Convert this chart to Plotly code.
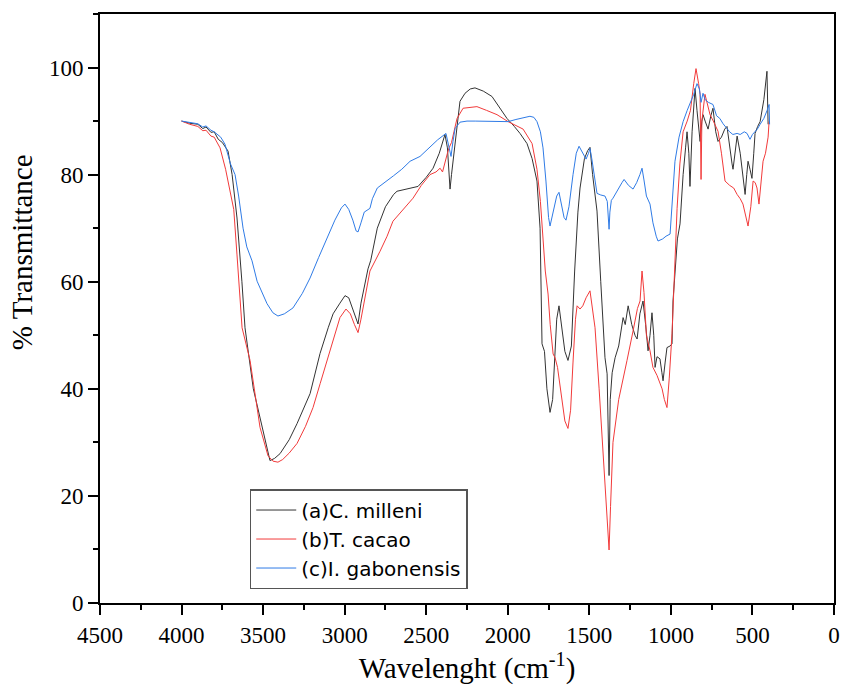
import plotly.graph_objects as go

# C. milleni (black)
wn_a = [4000, 3950, 3900, 3870, 3850, 3820, 3800, 3775, 3750, 3715, 3690, 3660, 3630, 3611, 3560,
        3507, 3475, 3458, 3430, 3396, 3340, 3292, 3212, 3151, 3100, 3071, 3029, 2998, 2975, 2950,
        2918, 2900, 2875, 2857, 2840, 2800, 2750, 2700, 2679, 2600, 2550, 2500, 2458, 2420, 2385,
        2370, 2360, 2354, 2345, 2336, 2325, 2310, 2293, 2262, 2230, 2201, 2150, 2097, 2050, 2005,
        1960, 1925, 1882, 1851, 1821, 1802, 1790, 1775, 1760, 1741, 1725, 1710, 1700, 1686, 1670,
        1650, 1631, 1610, 1590, 1570, 1557, 1530, 1510, 1496, 1480, 1453, 1430, 1404, 1391, 1385,
        1379, 1372, 1360, 1342, 1320, 1293, 1280, 1262, 1240, 1220, 1207, 1190, 1171, 1155, 1140,
        1128, 1116, 1105, 1097, 1085, 1067, 1055, 1048, 1035, 1024, 1005, 993, 987, 975, 960,
        944, 925, 910, 901, 890, 883, 870, 852, 840, 830, 821, 810, 803, 790, 772,
        755, 742, 725, 711, 690, 670, 656, 640, 625, 619, 605, 594, 575, 560, 545,
        535, 527, 515, 503, 492, 484, 468, 453, 430, 411, 404]
t_a = [90.0, 89.6, 89.4, 88.6, 88.9, 87.9, 88.0, 86.6, 86.0, 84.4, 80.0, 71.9, 60.0, 51.4, 40.0,
       32.8, 28.5, 26.6, 27.0, 27.9, 30.5, 33.5, 39.1, 46.6, 51.5, 54.0, 56.0, 57.4, 57.0, 55.0,
       52.1, 56.0, 60.0, 62.4, 64.0, 70.0, 74.0, 76.3, 76.9, 77.5, 77.8, 79.5, 81.2, 84.0, 87.5,
       85.0, 79.0, 77.3, 80.0, 82.5, 86.0, 90.0, 93.7, 95.2, 96.0, 96.2, 95.6, 94.6, 92.5, 90.5,
       89.0, 87.7, 85.8, 83.0, 78.8, 70.0, 48.4, 47.0, 40.0, 35.6, 38.0, 48.0, 53.0, 55.5, 52.0,
       47.0, 45.3, 48.0, 62.0, 73.0, 77.5, 83.0, 84.5, 85.1, 80.0, 73.2, 60.0, 45.8, 42.8, 30.0,
       23.8, 38.0, 43.0, 45.8, 48.0, 53.3, 52.0, 55.5, 52.0, 50.0, 49.3, 54.0, 56.4, 52.0, 47.1,
       50.0, 54.2, 50.0, 44.0, 46.0, 45.6, 43.0, 41.5, 45.0, 47.7, 48.0, 48.4, 56.4, 62.0, 68.0,
       70.8, 80.0, 85.0, 88.0, 84.0, 77.8, 88.0, 96.1, 92.0, 88.0, 86.2, 90.0, 91.2, 90.0, 88.5,
       91.0, 92.4, 88.0, 86.2, 87.0, 88.5, 89.0, 85.0, 82.0, 81.0, 85.0, 87.2, 84.0, 80.0, 76.3,
       80.0, 82.5, 81.0, 79.3, 84.0, 87.7, 89.0, 89.9, 94.0, 99.3, 89.4]

# T. cacao (red)
wn_b = [4000, 3950, 3900, 3870, 3850, 3820, 3800, 3764, 3730, 3710, 3700, 3691, 3680, 3660, 3629,
        3580, 3519, 3470, 3440, 3409, 3380, 3340, 3292, 3240, 3194, 3150, 3108, 3070, 3029, 2992,
        2965, 2940, 2918, 2900, 2870, 2845, 2783, 2740, 2704, 2640, 2581, 2530, 2477, 2440, 2415,
        2400, 2385, 2370, 2360, 2345, 2330, 2311, 2274, 2230, 2189, 2130, 2066, 1998, 1950, 1906,
        1851, 1821, 1800, 1784, 1770, 1753, 1740, 1722, 1710, 1695, 1670, 1650, 1631, 1615, 1600,
        1585, 1575, 1557, 1540, 1520, 1496, 1480, 1465, 1440, 1410, 1390, 1379, 1370, 1355, 1320,
        1290, 1269, 1232, 1205, 1189, 1177, 1165, 1150, 1128, 1110, 1085, 1054, 1040, 1024, 1010,
        993, 980, 962, 945, 925, 900, 880, 860, 846, 830, 821, 815, 810, 791, 760,
        740, 711, 690, 668, 640, 615, 594, 575, 558, 540, 527, 510, 496, 483, 472,
        460, 448, 435, 420, 411, 404, 398]
t_b = [90.0, 89.4, 89.0, 88.2, 88.3, 87.2, 87.0, 85.0, 81.0, 78.0, 76.0, 74.5, 73.5, 65.0, 51.4,
       45.3, 32.8, 27.5, 26.5, 26.3, 26.8, 28.0, 29.8, 33.0, 36.5, 41.0, 45.3, 49.5, 53.3, 54.9,
       54.0, 52.0, 50.5, 53.0, 58.0, 62.0, 65.7, 68.5, 71.3, 73.5, 75.6, 78.0, 80.0, 80.5, 81.2,
       80.5, 82.5, 84.0, 85.0, 86.0, 88.0, 90.5, 92.4, 92.6, 92.7, 92.0, 91.2, 89.9, 89.2, 88.5,
       85.8, 81.0, 75.0, 68.0, 62.0, 57.7, 52.0, 46.5, 45.8, 44.0, 38.0, 34.0, 32.6, 36.0, 45.0,
       53.0, 55.5, 54.9, 55.5, 57.0, 58.3, 55.0, 51.4, 40.0, 25.0, 14.0, 9.9, 18.0, 30.0, 38.0,
       42.0, 45.3, 50.8, 55.0, 56.4, 62.0, 58.0, 50.0, 47.1, 44.0, 42.5, 40.0, 38.0, 36.5, 42.0,
       50.3, 60.0, 73.7, 82.0, 88.0, 90.0, 92.0, 97.0, 99.8, 97.0, 95.0, 79.1, 90.0, 95.0, 91.2,
       90.0, 88.1, 84.0, 78.8, 78.0, 77.5, 76.3, 75.5, 74.5, 72.0, 70.4, 74.0, 78.8, 78.5, 77.5,
       74.5, 78.0, 82.5, 84.0, 85.7, 87.0, 89.9]

# I. gabonensis (blue)
wn_c = [4000, 3950, 3900, 3870, 3850, 3820, 3800, 3760, 3734, 3700, 3672, 3650, 3623, 3600, 3568,
        3537, 3500, 3476, 3440, 3409, 3370, 3317, 3260, 3212, 3160, 3108, 3060, 3020, 2998, 2975,
        2950, 2930, 2918, 2900, 2880, 2845, 2830, 2800, 2740, 2700, 2650, 2599, 2538, 2480, 2430,
        2379, 2365, 2348, 2336, 2323, 2293, 2250, 2200, 2100, 2050, 1998, 1950, 1900, 1864, 1840,
        1821, 1800, 1784, 1766, 1750, 1741, 1725, 1700, 1686, 1670, 1655, 1643, 1625, 1600, 1580,
        1563, 1540, 1520, 1505, 1496, 1485, 1470, 1453, 1430, 1404, 1390, 1382, 1379, 1374, 1365,
        1355, 1330, 1300, 1287, 1260, 1232, 1210, 1190, 1177, 1165, 1150, 1128, 1110, 1090, 1079,
        1050, 1030, 1005, 990, 975, 950, 925, 900, 880, 860, 840, 825, 815, 803, 790,
        770, 742, 720, 700, 680, 656, 640, 620, 594, 575, 550, 533, 515, 500, 470,
        453, 430, 410, 398, 395]
t_c = [90.0, 89.7, 89.5, 88.9, 89.1, 88.3, 88.0, 87.0, 85.7, 82.0, 80.0, 76.0, 70.0, 66.5, 63.9,
       60.1, 57.5, 55.9, 54.2, 53.6, 54.0, 55.1, 57.8, 60.7, 64.5, 68.2, 71.5, 73.8, 74.5, 73.5,
       71.5, 69.5, 69.3, 71.0, 73.0, 73.7, 75.5, 77.5, 78.8, 79.8, 81.0, 82.5, 83.4, 85.0, 86.5,
       87.7, 86.0, 83.4, 86.2, 88.6, 89.8, 90.0, 90.0, 90.0, 89.9, 89.9, 90.3, 90.6, 90.9, 90.7,
       89.9, 88.0, 85.0, 78.8, 72.0, 70.4, 72.5, 76.0, 76.7, 74.0, 72.0, 71.5, 74.0, 80.0, 84.0,
       85.3, 84.0, 82.9, 84.0, 84.9, 83.0, 80.0, 76.5, 76.2, 76.0, 75.0, 72.0, 69.8, 73.0, 75.2,
       75.6, 77.0, 78.5, 79.1, 78.0, 77.3, 78.5, 80.0, 81.2, 79.0, 76.0, 74.5, 71.0, 68.5, 67.6,
       68.0, 68.5, 68.9, 75.0, 82.5, 87.0, 89.9, 92.0, 93.5, 95.0, 97.0, 96.0, 93.5, 95.2, 94.0,
       93.5, 93.1, 91.0, 90.5, 89.5, 88.6, 88.0, 87.5, 87.7, 87.5, 88.0, 87.7, 86.6, 87.5, 88.5,
       89.4, 90.5, 92.0, 93.1, 89.4]

names = ["(a)C. milleni", "(b)T. cacao", "(c)I. gabonensis"]
colors = ["#333333", "#f23a3a", "#2f7be6"]

fig = go.Figure()
for wn, t, name, col in zip([wn_a, wn_b, wn_c], [t_a, t_b, t_c], names, colors):
    fig.add_trace(go.Scatter(x=wn, y=t, mode="lines", name=name,
                             line=dict(color=col, width=1)))

serif = "Liberation Serif, Times New Roman, serif"
tick_font = dict(family=serif, size=23, color="black")

axis_common = dict(
    showline=True, linecolor="black", linewidth=2, mirror=True,
    ticks="outside", ticklen=10, tickwidth=2, tickcolor="black",
    showgrid=False, zeroline=False, automargin=False,
    tickfont=tick_font,
)

fig.update_layout(
    width=844, height=697,
    margin=dict(l=100, r=10, t=14, b=94),
    paper_bgcolor="white", plot_bgcolor="white",
    font=dict(family=serif, color="black"),
    xaxis=dict(range=[4500, 0], dtick=500, tick0=0,
               minor=dict(dtick=250, ticks="outside", ticklen=5, tickwidth=2, tickcolor="black"),
               title=dict(text="Wavelenght (cm<sup>-1</sup>)", standoff=10,
                          font=dict(family=serif, size=29, color="black")),
               **axis_common),
    yaxis=dict(range=[0, 110], dtick=20, tick0=0,
               minor=dict(dtick=10, ticks="outside", ticklen=5, tickwidth=2, tickcolor="black"),
               **axis_common),
    legend=dict(x=0.204, y=0.1935, xanchor="left", yanchor="top",
                bgcolor="white", bordercolor="#555555", borderwidth=1.5,
                font=dict(family="DejaVu Sans", size=20, color="black"),
                tracegroupgap=0, itemwidth=40),
    showlegend=True,
    annotations=[dict(text="% Transmittance", textangle=-90,
                      xref="paper", yref="paper", x=-0.106, y=0.596,
                      xanchor="center", yanchor="middle", showarrow=False,
                      font=dict(family=serif, size=29, color="black"))],
)

# the page's default 8px body margin would push the 844px figure past the window
fig.write_html("out.html", config={"displayModeBar": False},
               post_script="document.body.style.margin='0px';")
